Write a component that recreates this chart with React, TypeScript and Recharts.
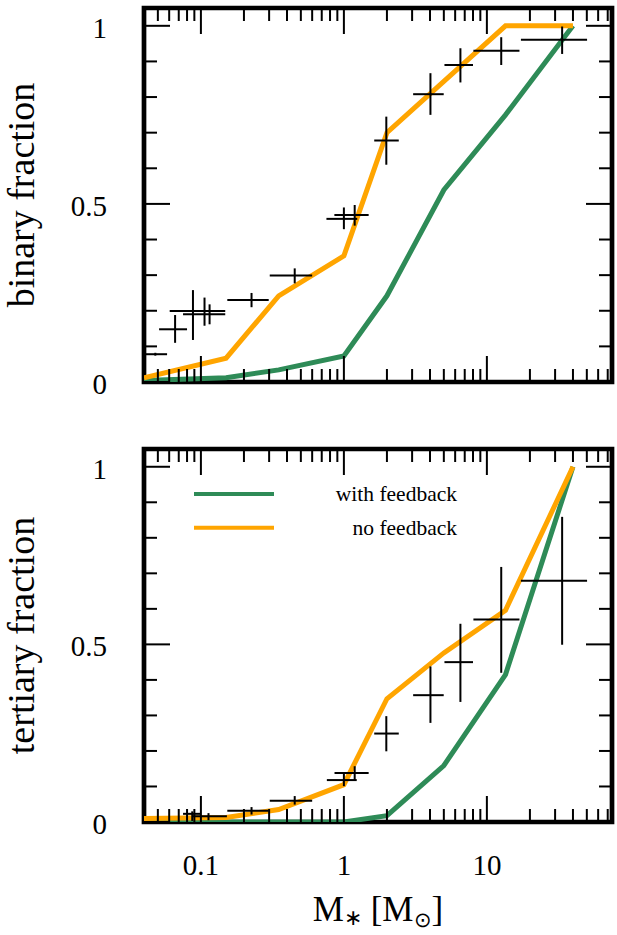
import React from 'react';
import { ComposedChart, Line, Scatter, ErrorBar, XAxis, YAxis, ReferenceArea, Legend } from 'recharts';

const serif = '"Liberation Serif", "Times New Roman", serif';

// simulated mass bins and model fractions
const massBins = [0.04, 0.15, 0.35, 1, 2, 5, 13.5, 40];
const binaryWithFeedback = [0.004, 0.012, 0.034, 0.073, 0.242, 0.539, 0.75, 1.0];
const binaryNoFeedback = [0.012, 0.067, 0.242, 0.354, 0.7, 0.844, 1.0, 1.0];
const tertiaryWithFeedback = [0, 0, 0, 0, 0.018, 0.159, 0.415, 1.0];
const tertiaryNoFeedback = [0.01, 0.013, 0.035, 0.105, 0.347, 0.476, 0.596, 1.0];

// observed binary fractions (mass range and fraction range)
const binObsMass = [0.048, 0.066, 0.088, 0.106, 0.115, 0.226, 0.453, 1.0, 1.19, 1.98, 4.03, 6.53, 12.6, 33.6];
const binObsMassLo = [0.04, 0.051, 0.0605, 0.08, 0.075, 0.153, 0.303, 0.755, 0.858, 1.63, 3.05, 5.05, 8.05, 17.3];
const binObsMassHi = [0.058, 0.08, 0.126, 0.148, 0.148, 0.298, 0.6, 1.24, 1.49, 2.42, 4.99, 8.0, 16.9, 50.2];
const binObsFrac = [0.078, 0.148, 0.199, 0.199, 0.19, 0.23, 0.299, 0.458, 0.469, 0.678, 0.808, 0.89, 0.93, 0.961];
const binObsFracLo = [0.074, 0.11, 0.118, 0.158, 0.162, 0.21, 0.277, 0.429, 0.439, 0.61, 0.75, 0.841, 0.89, 0.921];
const binObsFracHi = [0.082, 0.188, 0.258, 0.237, 0.218, 0.25, 0.319, 0.49, 0.497, 0.745, 0.867, 0.937, 0.968, 0.998];

// observed tertiary fractions
const terObsMass = [0.087, 0.113, 0.226, 0.453, 1.0, 1.19, 1.98, 4.03, 6.53, 12.6, 33.6];
const terObsMassLo = [0.075, 0.087, 0.153, 0.303, 0.76, 0.86, 1.63, 3.05, 5.05, 8.05, 17.3];
const terObsMassHi = [0.1, 0.152, 0.298, 0.6, 1.23, 1.49, 2.42, 4.99, 8.0, 16.9, 50.2];
const terObsFrac = [0.023, 0.016, 0.032, 0.06, 0.118, 0.138, 0.249, 0.357, 0.45, 0.57, 0.679];
const terObsFracLo = [0.003, 0.005, 0.021, 0.049, 0.101, 0.118, 0.199, 0.279, 0.338, 0.42, 0.499];
const terObsFracHi = [0.03, 0.025, 0.042, 0.073, 0.138, 0.157, 0.298, 0.438, 0.558, 0.718, 0.859];

// axis ticks
const xTicks = [0.05, 0.06, 0.07, 0.08, 0.09, 0.1, 0.2, 0.3, 0.4, 0.5, 0.6, 0.7, 0.8, 0.9, 1, 2, 3, 4, 5, 6, 7, 8, 9, 10, 20, 30, 40, 50, 60, 70];
const xMajor = [0.1, 1, 10];
const yTicks = [0, 0.1, 0.2, 0.3, 0.4, 0.5, 0.6, 0.7, 0.8, 0.9, 1];
const yMajor = [0, 0.5, 1];
const legendOrder = ['with feedback', 'no feedback'];

const X_DOMAIN = [0.04, 75];
const Y_DOMAIN = [0, 1.05];

const toModel = (fb: number[], nofb: number[]) =>
  massBins.map((m, i) => ({ m, withFb: fb[i], noFb: nofb[i] }));

const toObs = (mass: number[], lo: number[], hi: number[], f: number[], flo: number[], fhi: number[]) =>
  mass.map((m, i) => ({
    m,
    f: f[i],
    mErr: [m - lo[i], hi[i] - m],
    fErr: [f[i] - flo[i], fhi[i] - f[i]],
  }));

const XTick = ({ x, y, payload, side, showLabel }: any) => {
  const major = xMajor.includes(payload.value);
  const len = major ? 26 : 13;
  const dir = side === 'bottom' ? -1 : 1;
  return (
    <g>
      <line x1={x} x2={x} y1={y} y2={y + dir * len} stroke="#000" strokeWidth={2} />
      {showLabel && major && (
        <text x={x} y={y + 53} textAnchor="middle" fontSize={29} fontFamily={serif} fill="#000">
          {String(payload.value)}
        </text>
      )}
    </g>
  );
};

const YTick = ({ x, y, payload, side, showLabel }: any) => {
  const major = yMajor.includes(payload.value);
  const len = major ? 26 : 13;
  const dir = side === 'left' ? 1 : -1;
  return (
    <g>
      <line x1={x} x2={x + dir * len} y1={y} y2={y} stroke="#000" strokeWidth={2} />
      {showLabel && major && (
        <text x={x - 37} y={y + 12} textAnchor="end" fontSize={29} fontFamily={serif} fill="#000">
          {String(payload.value)}
        </text>
      )}
    </g>
  );
};

const YTitle = ({ viewBox, text }: any) => {
  const cx = viewBox.x + viewBox.width - 110;
  const cy = viewBox.y + viewBox.height / 2;
  return (
    <text x={cx} y={cy} transform={`rotate(-90 ${cx} ${cy})`} textAnchor="middle" fontSize={38} fontFamily={serif} fill="#000">
      {text}
    </text>
  );
};

const XTitle = ({ viewBox }: any) => {
  const cx = viewBox.x + viewBox.width / 2;
  const by = viewBox.y + 99;
  return (
    <text x={cx} y={by} textAnchor="middle" fontSize={35} fontFamily={serif} fill="#000">
      M
      <tspan fontSize={22} dy={4}>∗</tspan>
      <tspan fontSize={35} dy={-4}> [M</tspan>
      <tspan fontSize={21} dy={6}>⊙</tspan>
      <tspan fontSize={35} dy={-6}>]</tspan>
    </text>
  );
};

const renderLegend = (props: any) => {
  const items = (props.payload || [])
    .filter((p: any) => legendOrder.includes(p.value))
    .sort((a: any, b: any) => legendOrder.indexOf(a.value) - legendOrder.indexOf(b.value));
  return (
    <svg width={280} height={75} style={{ overflow: 'visible' }}>
      {items.map((it: any, i: number) => (
        <g key={it.value}>
          <line x1={8} x2={88} y1={19 + i * 33.7} y2={19 + i * 33.7} stroke={it.color} strokeWidth={4} />
          <text x={271} y={26 + i * 33.7} textAnchor="end" fontSize={21.5} fontFamily={serif} fill="#000">
            {it.value}
          </text>
        </g>
      ))}
    </svg>
  );
};

type PanelProps = {
  title: string;
  model: any[];
  obs: any[];
  height: number;
  marginTop: number;
  marginBottom: number;
  bottomPanel?: boolean;
};

// axes are 1px thick, so the margins below are one pixel short of the plot edges
const Panel = ({ title, model, obs, height, marginTop, marginBottom, bottomPanel }: PanelProps) => (
  <ComposedChart
    width={617}
    height={height}
    data={model}
    margin={{ top: marginTop - 1, right: 4, bottom: marginBottom - 1, left: 143 }}
  >
    <XAxis
      dataKey="m"
      type="number"
      scale="log"
      domain={X_DOMAIN}
      allowDataOverflow
      ticks={xTicks}
      interval={0}
      height={1}
      axisLine={false}
      tickLine={false}
      tickSize={0}
      tickMargin={0}
      tick={(p: any) => <XTick {...p} side="bottom" showLabel={bottomPanel} />}
      label={bottomPanel ? (p: any) => <XTitle viewBox={p.viewBox} /> : undefined}
    />
    <XAxis
      xAxisId="top"
      orientation="top"
      dataKey="m"
      type="number"
      scale="log"
      domain={X_DOMAIN}
      allowDataOverflow
      ticks={xTicks}
      interval={0}
      height={1}
      axisLine={false}
      tickLine={false}
      tickSize={0}
      tickMargin={0}
      tick={(p: any) => <XTick {...p} side="top" showLabel={false} />}
    />
    <YAxis
      type="number"
      domain={Y_DOMAIN}
      allowDataOverflow
      ticks={yTicks}
      interval={0}
      width={1}
      axisLine={false}
      tickLine={false}
      tickSize={0}
      tickMargin={0}
      tick={(p: any) => <YTick {...p} side="left" showLabel />}
      label={(p: any) => <YTitle viewBox={p.viewBox} text={title} />}
    />
    <YAxis
      yAxisId="right"
      orientation="right"
      type="number"
      domain={Y_DOMAIN}
      allowDataOverflow
      ticks={yTicks}
      interval={0}
      width={1}
      axisLine={false}
      tickLine={false}
      tickSize={0}
      tickMargin={0}
      tick={(p: any) => <YTick {...p} side="right" showLabel={false} />}
    />
    <Line
      dataKey="withFb"
      name="with feedback"
      type="linear"
      stroke="#2E8B57"
      strokeWidth={5}
      dot={false}
      activeDot={false}
      isAnimationActive={false}
    />
    <Line
      dataKey="noFb"
      name="no feedback"
      type="linear"
      stroke="#FFA500"
      strokeWidth={5}
      dot={false}
      activeDot={false}
      isAnimationActive={false}
    />
    <Scatter data={obs} dataKey="f" legendType="none" shape={() => <g />} isAnimationActive={false}>
      <ErrorBar dataKey="fErr" direction="y" width={0} stroke="#000" strokeWidth={2} isAnimationActive={false} />
      <ErrorBar dataKey="mErr" direction="x" width={0} stroke="#000" strokeWidth={2} isAnimationActive={false} />
    </Scatter>
    <ReferenceArea
      x1={X_DOMAIN[0]}
      x2={X_DOMAIN[1]}
      y1={Y_DOMAIN[0]}
      y2={Y_DOMAIN[1]}
      ifOverflow="visible"
      fill="none"
      fillOpacity={0}
      stroke="#000"
      strokeWidth={4.7}
    />
    {bottomPanel && (
      <Legend
        layout="vertical"
        align="center"
        verticalAlign="middle"
        content={renderLegend}
        wrapperStyle={{ left: 186, top: 35, width: 280, height: 75 }}
      />
    )}
  </ComposedChart>
);

export default function App() {
  const binaryModel = toModel(binaryWithFeedback, binaryNoFeedback);
  const tertiaryModel = toModel(tertiaryWithFeedback, tertiaryNoFeedback);
  const binaryObs = toObs(binObsMass, binObsMassLo, binObsMassHi, binObsFrac, binObsFracLo, binObsFracHi);
  const tertiaryObs = toObs(terObsMass, terObsMassLo, terObsMassHi, terObsFrac, terObsFracLo, terObsFracHi);

  return (
    <div style={{ position: 'absolute', left: 0, top: 0, width: 617, height: 935, background: '#fff' }}>
      <div style={{ position: 'absolute', left: 0, top: 0 }}>
        <Panel title="binary fraction" model={binaryModel} obs={binaryObs} height={440} marginTop={8} marginBottom={58} />
      </div>
      <div style={{ position: 'absolute', left: 0, top: 440 }}>
        <Panel
          title="tertiary fraction"
          model={tertiaryModel}
          obs={tertiaryObs}
          height={495}
          marginTop={9}
          marginBottom={113}
          bottomPanel
        />
      </div>
    </div>
  );
}
